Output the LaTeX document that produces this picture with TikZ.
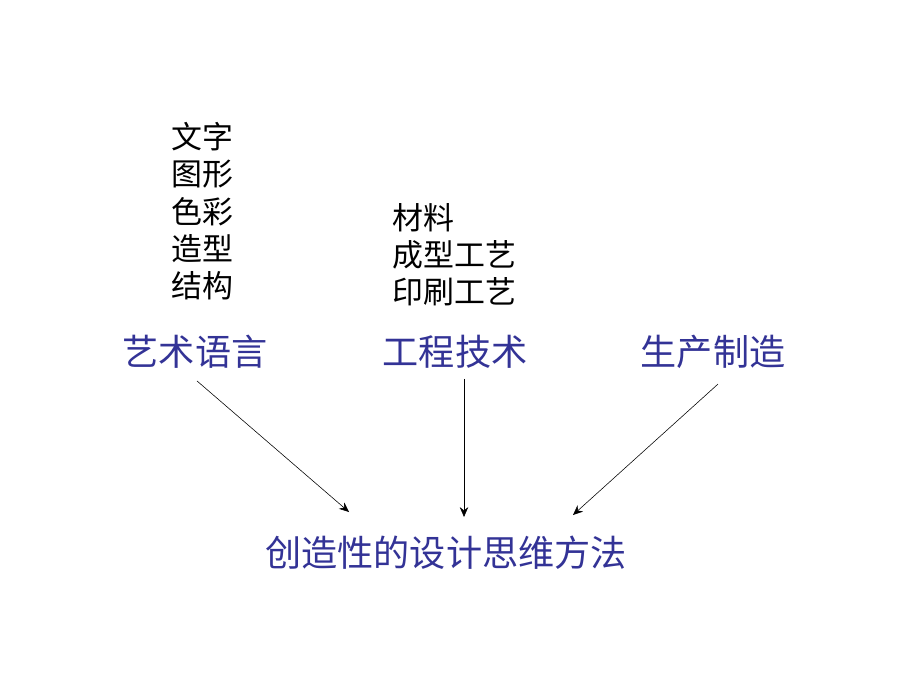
\documentclass[tikz,border=0pt]{standalone}
\usepackage{fontspec}
\setmainfont{Noto Sans CJK SC}
\usetikzlibrary{arrows.meta, positioning, calc}
\definecolor{labelColor}{RGB}{51, 51, 150}
\tikzstyle{field} = [text=labelColor, font=\fontsize{25.7}{30}\selectfont, inner sep=0pt]
\tikzstyle{items} = [text=black, font=\fontsize{22}{26.5}\selectfont, align=left, inner sep=0pt, anchor=north west]
\tikzstyle{link} = [thin, -{Stealth[length=7pt, width=6pt]}]

\begin{document}
\begin{tikzpicture}[x=0.025cm, y=-0.025cm]
			\useasboundingbox (0,0) rectangle (920,690);
			\node (art) [field] at (195,352) {艺术语言};
			\node (eng) [field] at (455,352) {工程技术};
			\node (prod) [field] at (713,352) {生产制造};
			\node (goal) [field] at (446,553) {创造性的设计思维方法};
			
			\node (artlist) [items] at (171,122) {文字\\图形\\色彩\\造型\\结构};
			\node (englist) [items] at (392,203) {材料\\成型工艺\\印刷工艺};
			
			\coordinate (art end) at (349,512);
			\coordinate (eng end) at (464,517);
			\coordinate (prod end) at (573,515);
			
			\draw[link] ($(art.south)+(2,12)$) -- (art end);
			\draw[link] ($(eng.south)+(9,10)$) -- (eng end);
			\draw[link] ($(prod.south)+(5,15)$) -- (prod end);
			\end{tikzpicture}
\end{document}
